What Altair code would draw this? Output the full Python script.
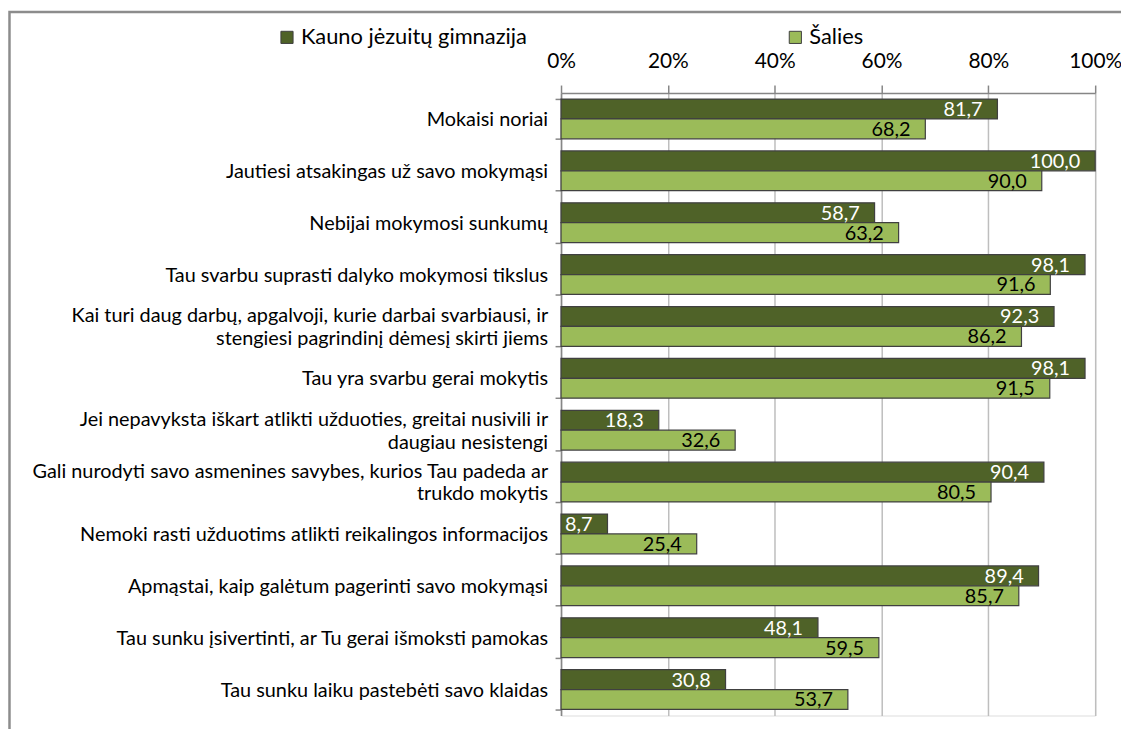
import altair as alt
import pandas as pd

categories = [
    "Mokaisi noriai",
    "Jautiesi atsakingas už savo mokymąsi",
    "Nebijai mokymosi sunkumų",
    "Tau svarbu suprasti dalyko mokymosi tikslus",
    "Kai turi daug darbų, apgalvoji, kurie darbai svarbiausi, ir|stengiesi pagrindinį dėmesį skirti jiems",
    "Tau yra svarbu gerai mokytis",
    "Jei nepavyksta iškart atlikti užduoties, greitai nusivili ir|daugiau nesistengi",
    "Gali nurodyti savo asmenines savybes, kurios Tau padeda ar|trukdo mokytis",
    "Nemoki rasti užduotims atlikti reikalingos informacijos",
    "Apmąstai, kaip galėtum pagerinti savo mokymąsi",
    "Tau sunku įsivertinti, ar Tu gerai išmoksti pamokas",
    "Tau sunku laiku pastebėti savo klaidas",
]
series_names = ["Kauno jėzuitų gimnazija", "Šalies"]
kauno = [81.7, 100.0, 58.7, 98.1, 92.3, 98.1, 18.3, 90.4, 8.7, 89.4, 48.1, 30.8]
salies = [68.2, 90.0, 63.2, 91.6, 86.2, 91.5, 32.6, 80.5, 25.4, 85.7, 59.5, 53.7]
x_ticks = [0, 20, 40, 60, 80, 100]
colors = ["#4F6228", "#9BBB59"]

rows = []
for c, a, b in zip(categories, kauno, salies):
    rows.append({"cat": c, "series": series_names[0], "value": a,
                 "label": f"{a:.1f}".replace(".", ",")})
    rows.append({"cat": c, "series": series_names[1], "value": b,
                 "label": f"{b:.1f}".replace(".", ",")})
df = pd.DataFrame(rows)
cat_df = pd.DataFrame({"cat": categories,
                       "nlines": [c.count("|") + 1 for c in categories]})

FONT = "Lato"
FS = 20
W, H = 538, 627
PAD_L, PAD_T = 557, 83
LINE_H = 23

y_enc = alt.Y(
    "cat:N", sort=categories, title=None,
    scale=alt.Scale(paddingInner=0.234, paddingOuter=0.117),
    axis=alt.Axis(
        labels=False,
        domainColor="#868686", domainWidth=1.5,
        tickColor="#868686", tickWidth=1.5, tickSize=6, tickBand="extent",
    ),
)
yoff = alt.YOffset("series:N", sort=series_names)
x_enc = alt.X(
    "value:Q", title=None,
    scale=alt.Scale(domain=[0, 100], nice=False),
    axis=alt.Axis(
        orient="top", values=x_ticks, labelExpr="datum.value + '%'",
        labelFont=FONT, labelFontSize=21, labelColor="#000000", labelPadding=14,
        labelFlush=False,
        domainColor="#868686", domainWidth=1.5,
        tickColor="#868686", tickWidth=1.5, tickSize=8,
        gridColor="#BEBEBE", gridWidth=1.5,
    ),
)

frame = alt.Chart(pd.DataFrame({"k": [0]})).mark_rect(
    fill=None, stroke="#8C8C8C", strokeWidth=2.5
).encode(
    x=alt.value(-PAD_L + 1.5), x2=alt.value(W + 60),
    y=alt.value(-PAD_T + 1.5), y2=alt.value(H + 60),
)

bars = alt.Chart(df).mark_bar(stroke="#404040", strokeWidth=1.2).encode(
    y=y_enc, yOffset=yoff, x=x_enc,
    color=alt.Color(
        "series:N", sort=series_names,
        scale=alt.Scale(domain=series_names, range=colors),
        legend=alt.Legend(
            title=None, orient="none", direction="horizontal",
            legendX=-287, legendY=-67, padding=0,
            symbolType="square", symbolSize=150, symbolStrokeColor="#404040",
            symbolStrokeWidth=1, labelFont=FONT, labelFontSize=22,
            labelColor="#000000", labelOffset=3, columnPadding=259,
            labelLimit=400,
        ),
    ),
)

labels = alt.Chart(df).mark_text(
    align="right", baseline="middle", dx=-15, dy=1, font=FONT, fontSize=FS
).encode(
    y=alt.Y("cat:N", sort=categories),
    yOffset=yoff,
    x=alt.X("value:Q"),
    text="label:N",
    color=alt.condition(alt.datum.series == series_names[0],
                        alt.value("#FFFFFF"), alt.value("#000000")),
)

def cat_text(n):
    return alt.Chart(cat_df).transform_filter(
        alt.datum.nlines == n
    ).mark_text(
        align="right", baseline="middle", font=FONT, fontSize=FS,
        color="#000000", lineBreak="|", lineHeight=LINE_H,
        dy=-(n - 1) * LINE_H / 2 + 1,
    ).encode(
        y=alt.Y("cat:N", sort=categories),
        x=alt.value(-13),
        text="cat:N",
    )

chart = alt.layer(frame, bars, labels, cat_text(1), cat_text(2)).properties(
    width=W, height=H,
    autosize=alt.AutoSizeParams(type="none"),
    padding={"left": PAD_L, "top": PAD_T, "right": 26, "bottom": 11},
).configure_view(stroke=None).configure(background="#FFFFFF")

chart.save("out.html", embed_options={"renderer": "svg", "actions": False})
